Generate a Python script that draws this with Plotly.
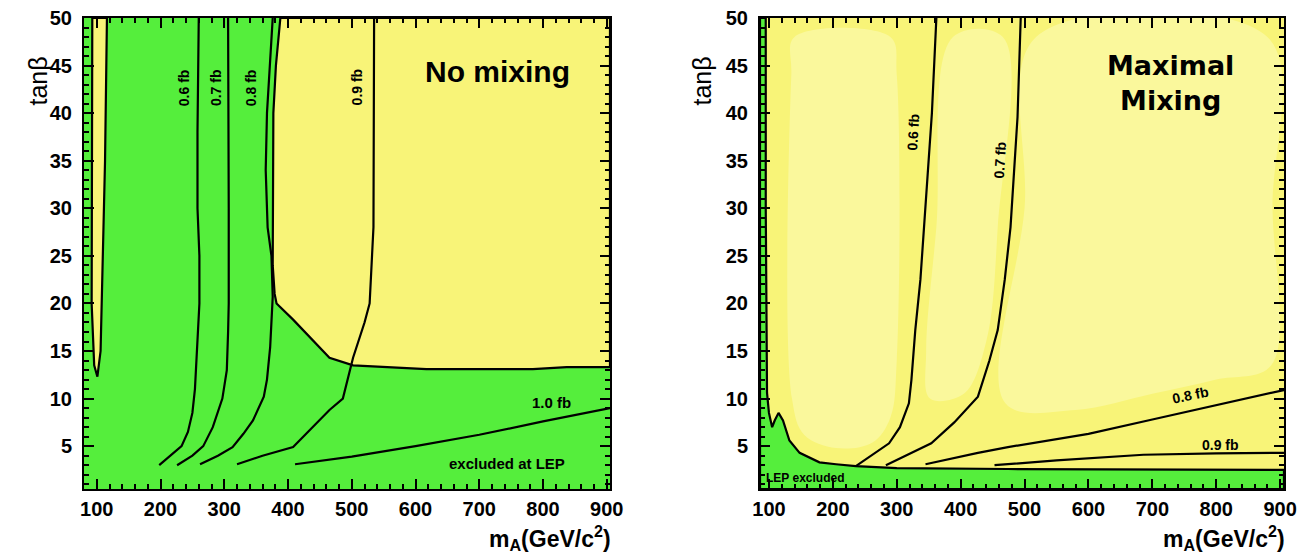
import plotly.graph_objects as go

GREEN = "#55EE3C"
YELLOW = "#F8F478"
LIGHT_YELLOW = "#FAF89C"

# ---- No mixing panel (left) ----
# narrow allowed sliver near mA ~ 100
nm_sliver_x = [93, 116, 113, 109, 106, 101, 96, 92, 92, 93]
nm_sliver_y = [50, 50, 35, 25, 15, 12.3, 13.5, 20, 30, 50]
# large allowed region (yellow)
nm_allowed_x = [388, 381, 377, 376, 376, 379, 382, 408, 465, 502, 617, 784, 837, 905, 905, 388]
nm_allowed_y = [50, 45, 40, 30, 24, 21, 20, 18.3, 14.3, 13.5, 13.1, 13.1, 13.3, 13.3, 50, 50]

nm_contours = {
    "0.6 fb": ([198, 215, 233, 243, 250, 254, 257, 261, 261, 258, 258, 260],
               [3, 4, 5, 6.5, 8.5, 11, 15, 20, 25, 30, 38, 50]),
    "0.7 fb": ([226, 250, 267, 282, 297, 304, 306, 307, 307, 306],
               [3, 4, 5, 7, 10, 13, 17, 20, 30, 50]),
    "0.8 fb": ([262, 290, 313, 330, 345, 362, 367, 372, 376, 374, 368, 365, 367, 372, 376],
               [3.1, 4, 4.9, 6.3, 7.7, 10.2, 12, 15.4, 20.7, 25, 28, 34, 40, 45, 50]),
    "0.9 fb": ([320, 360, 408, 418, 465, 486, 502, 520, 528, 534, 535],
               [3.1, 4, 4.9, 5.6, 8.8, 10, 14.3, 18, 20, 28, 50]),
    "1.0 fb": ([411, 500, 600, 700, 800, 905],
               [3.1, 3.9, 5.0, 6.2, 7.6, 9.0]),
}

# ---- Maximal mixing panel (right) ----
mm_lep_x = [86, 95, 95, 96, 97, 100, 105, 109, 115, 122, 132, 148, 179, 205, 236, 300, 474, 906, 906, 86, 86]
mm_lep_y = [50, 50, 30, 15, 10.6, 8.5, 7, 7.7, 8.5, 7.7, 5.6, 4.3, 3.3, 3.1, 2.9, 2.7, 2.6, 2.5, 0.5, 0.5, 50]

# paler centres of the allowed bands
mm_pale = [
    ([140, 290, 300, 300, 290, 262, 205, 155, 136, 135, 140],
     [48, 48, 44, 14, 8, 5.4, 4.8, 6.2, 10, 44, 48]),
    ([388, 466, 458, 440, 405, 352, 346, 362, 388],
     [48, 48, 28, 16, 10.5, 10, 15, 28, 48]),
    ([518, 880, 888, 886, 800, 700, 580, 470, 500, 518],
     [48, 48, 30, 13.5, 12, 10.5, 8.8, 9.5, 30, 48]),
]

mm_contours = {
    "0.6 fb": ([236, 260, 288, 305, 319, 323, 329, 337, 345, 355, 362],
               [2.9, 4, 5.3, 7, 9.5, 12, 17.2, 22.5, 30, 40, 50]),
    "0.7 fb": ([283, 320, 354, 390, 427, 445, 458, 469, 478, 489, 494],
               [3.0, 4.2, 5.3, 7.5, 10.2, 14, 17.2, 22.5, 28, 39.6, 50]),
    "0.8 fb": ([345, 427, 474, 600, 700, 800, 906],
               [3.1, 4.3, 4.9, 6.3, 7.8, 9.3, 10.9]),
    "0.9 fb": ([453, 550, 686, 800, 906],
               [3.0, 3.5, 4.1, 4.25, 4.3]),
}

x_range_left = [80, 905]
x_range_right = [86, 906]
y_range = [0.5, 50]

# the page body adds an 8px offset; positions below are reference pixels minus it
OFF = 8
W, H = 1314, 558


def px(x):
    return (x - OFF) / W


def py(y):
    return 1 - (y - OFF) / H


fig = go.Figure()

# left panel: green background, yellow allowed regions on top
fig.add_trace(go.Scatter(
    x=[x_range_left[0], x_range_left[1], x_range_left[1], x_range_left[0]],
    y=[y_range[0], y_range[0], y_range[1], y_range[1]],
    fill="toself", fillcolor=GREEN, line=dict(width=0), mode="lines",
    xaxis="x", yaxis="y", hoverinfo="skip"))
for xs, ys in [(nm_sliver_x, nm_sliver_y), (nm_allowed_x, nm_allowed_y)]:
    fig.add_trace(go.Scatter(x=xs, y=ys, fill="toself", fillcolor=YELLOW,
                             line=dict(color="black", width=2.2), mode="lines",
                             xaxis="x", yaxis="y", hoverinfo="skip"))
for name, (xs, ys) in nm_contours.items():
    fig.add_trace(go.Scatter(x=xs, y=ys, mode="lines", line=dict(color="black", width=2.2),
                             xaxis="x", yaxis="y", name=name, hoverinfo="skip"))

# right panel: yellow background, paler band centres, LEP excluded green
for xs, ys in mm_pale:
    fig.add_trace(go.Scatter(x=xs, y=ys, fill="toself", fillcolor=LIGHT_YELLOW,
                             line=dict(width=0, shape="spline", smoothing=1.0), mode="lines",
                             xaxis="x2", yaxis="y2", hoverinfo="skip"))
fig.add_trace(go.Scatter(x=mm_lep_x, y=mm_lep_y, fill="toself", fillcolor=GREEN,
                         line=dict(color="black", width=2.2), mode="lines",
                         xaxis="x2", yaxis="y2", hoverinfo="skip"))
for name, (xs, ys) in mm_contours.items():
    fig.add_trace(go.Scatter(x=xs, y=ys, mode="lines", line=dict(color="black", width=2.2),
                             xaxis="x2", yaxis="y2", name=name, hoverinfo="skip"))

tickfont = dict(family="Liberation Sans", size=20, color="black", weight="bold")
xax = dict(
    tick0=100, dtick=100, ticks="inside", ticklen=10, tickwidth=1.5, tickcolor="black",
    minor=dict(dtick=20, ticks="inside", ticklen=5, tickcolor="black"),
    showline=True, linecolor="black", linewidth=2, mirror="ticks",
    showgrid=False, zeroline=False, tickfont=tickfont, automargin=False,
    ticklabelstandoff=1, ticklabeloverflow="allow",
)
yax = dict(
    tick0=0, dtick=5, range=y_range, ticks="inside", ticklen=10, tickwidth=1.5, tickcolor="black",
    minor=dict(dtick=1, ticks="inside", ticklen=5, tickcolor="black"),
    showline=True, linecolor="black", linewidth=2, mirror="ticks",
    showgrid=False, zeroline=False, tickfont=tickfont, ticklabelstandoff=6,
    ticklabeloverflow="allow", automargin=False, domain=[py(489), py(18)],
)

fig.update_layout(
    width=W, height=H,
    margin=dict(l=0, r=0, t=0, b=0, pad=0, autoexpand=False),
    paper_bgcolor="white", plot_bgcolor=YELLOW,
    showlegend=False,
    xaxis={**xax, "range": x_range_left, "domain": [px(84), px(610)], "anchor": "y"},
    yaxis={**yax, "anchor": "x"},
    xaxis2={**xax, "range": x_range_right, "domain": [px(760), px(1284)], "anchor": "y2"},
    yaxis2={**yax, "anchor": "x2"},
)

lab = dict(family="Liberation Sans", size=14, color="black", weight="bold")
annotations = [
    dict(x=238, y=42.7, xref="x", yref="y", text="0.6 fb", textangle=-90, font=lab),
    dict(x=288, y=42.7, xref="x", yref="y", text="0.7 fb", textangle=-90, font=lab),
    dict(x=343, y=42.7, xref="x", yref="y", text="0.8 fb", textangle=-90, font=lab),
    dict(x=508, y=42.8, xref="x", yref="y", text="0.9 fb", textangle=-90, font=lab),
    dict(x=813, y=9.6, xref="x", yref="y", text="1.0 fb", font=dict(lab, size=15)),
    dict(x=743, y=3.2, xref="x", yref="y", text="excluded at LEP", font=dict(lab, size=15)),
    dict(x=729, y=44.4, xref="x", yref="y", text="No mixing",
         font=dict(family="Liberation Sans", size=30, color="black", weight="bold")),
    dict(x=326, y=38, xref="x2", yref="y2", text="0.6 fb", textangle=-86.5, font=lab),
    dict(x=461, y=35.1, xref="x2", yref="y2", text="0.7 fb", textangle=-86.5, font=lab),
    dict(x=760, y=10.4, xref="x2", yref="y2", text="0.8 fb", textangle=-12, font=lab),
    dict(x=807, y=5.1, xref="x2", yref="y2", text="0.9 fb", font=lab),
    dict(x=93, y=1.7, xref="x2", yref="y2", text="LEP excluded", xanchor="left",
         font=dict(lab, size=12)),
    dict(x=729, y=43.2, xref="x2", yref="y2", text="Maximal<br>Mixing",
         font=dict(family="DejaVu Sans", size=27, color="black", weight="bold")),
]
for xp in (22, 702):
    annotations.append(dict(x=px(xp), y=py(55), xref="paper", yref="paper",
                            text="tanβ", textangle=-90,
                            font=dict(family="Liberation Sans", size=25, color="black")))
for xp in (613, 1287):
    annotations.append(dict(x=px(xp), y=py(556), xref="paper", yref="paper",
                            xanchor="right", yanchor="bottom",
                            text="m<sub>A</sub>(GeV/c<sup>2</sup>)",
                            font=dict(family="Liberation Sans", size=23, color="black", weight="bold")))
for a in annotations:
    a.setdefault("showarrow", False)
fig.update_layout(annotations=annotations)

fig.write_html("out.html")
